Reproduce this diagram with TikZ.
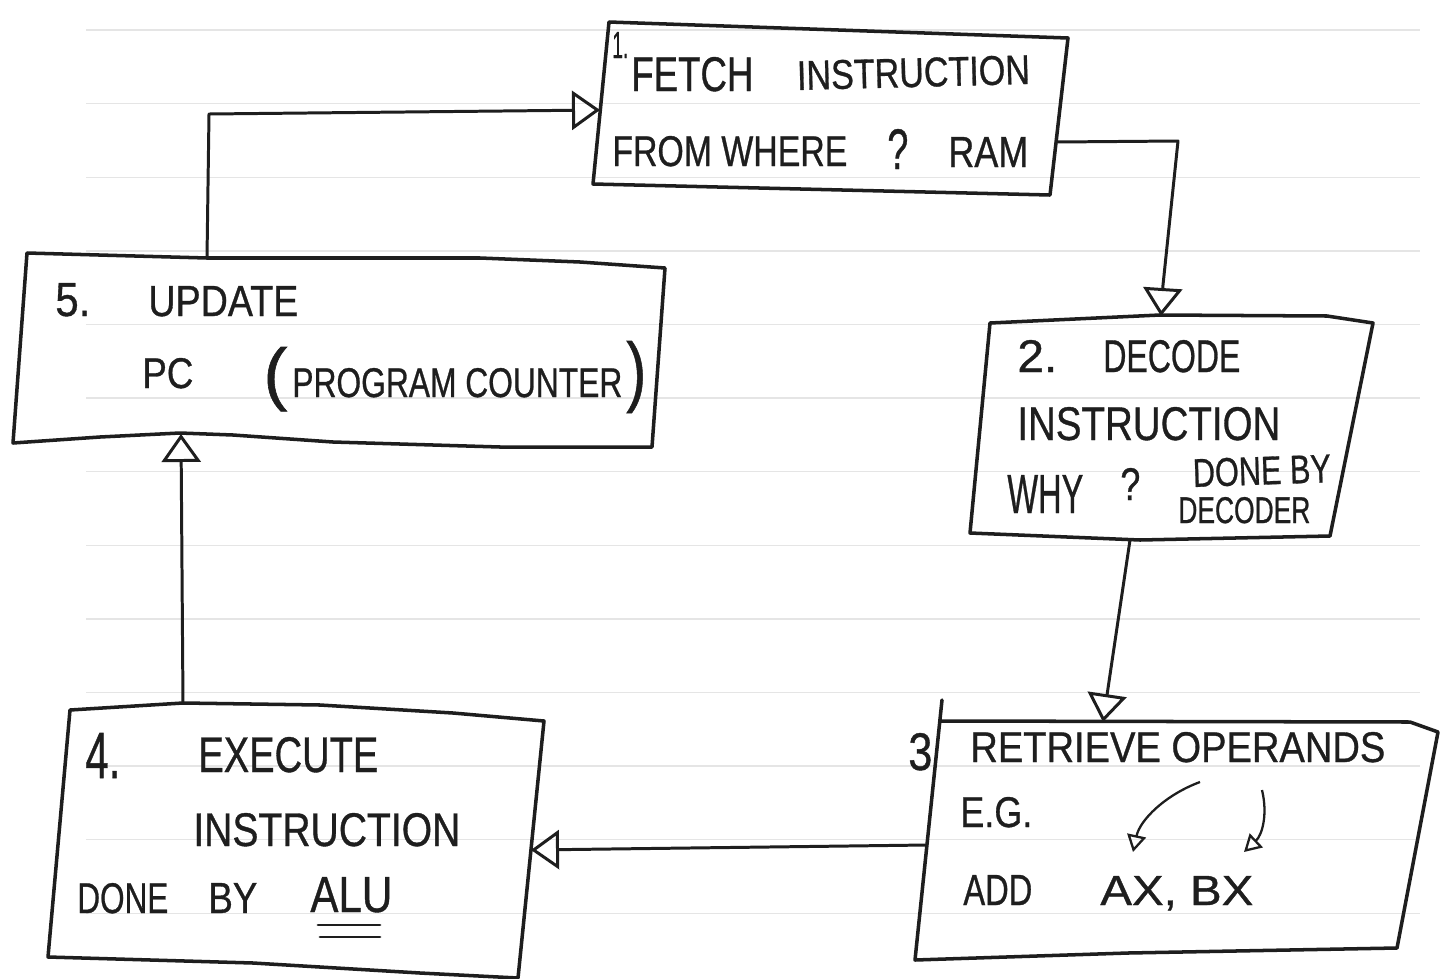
\documentclass[tikz,border=0pt]{standalone}
\usepackage{fontspec}
\usepackage{graphicx}
\usetikzlibrary{arrows.meta}
\newfontfamily\hand[FakeBold=0.8]{Liberation Sans}
\newlength\px
\setlength\px{0.2mm}
\newcommand\hwt[3]{\resizebox{#1\px}{#2\px}{\hand\fontsize{20pt}{24pt}\selectfont #3}}
\definecolor{ink}{HTML}{1E1E1E}
\begin{document}
\begin{tikzpicture}[x=0.2mm,y=-0.2mm,
  hw/.style={inner sep=0pt, anchor=base west, text=ink},
  box/.style={draw=ink, line width=2pt, line join=round, line cap=round},
  link/.style={draw=ink, line width=1.7pt, line join=round, -{Triangle[open,length=5.6mm,width=7.8mm,line width=1.7pt]}},
  sublink/.style={draw=ink, line width=1.3pt, -{Triangle[open,length=3.4mm,width=3.8mm,line width=1.3pt]}},
  rule/.style={draw=black!10, line width=0.8pt}]
\useasboundingbox (0,0) rectangle (1452,978);
\fill[white] (0,0) rectangle (1452,978);
% ruled notebook lines
\foreach \k in {0,...,12} {
  \draw[rule] (86,{30+73.6*\k}) -- (1420,{30+73.6*\k});
}
% ---------- boxes ----------
\draw[box] (609,22) -- (1068,38) -- (1050,195) -- (593,184) -- cycle;
\draw[box] (990,323) -- (1160,315) -- (1327,316) -- (1373,323) -- (1330,536) -- (1140,540) -- (970,533) -- cycle;
\draw[box] (942,700) -- (915,960) -- (1128,953) -- (1397,948) -- (1438,732) -- (1410,722) -- (940,721);
\draw[box] (70,710) -- (183,703) -- (320,705) -- (453,713) -- (544,721) -- (518,978) -- (420,973) -- (253,963) -- (48,957) -- cycle;
\draw[box] (27,253) -- (207,258) -- (480,258) -- (580,262) -- (665,268) -- (652,447) -- (500,447) -- (333,442) -- (233,435) -- (180,433) -- (100,437) -- (13,443) -- cycle;
% ---------- texts ----------
% 1
\node[hw] (n1) at (612,58) {\hwt{16}{26}{1.}};
\node[hw] (f1) at (631,91) {\hwt{122}{34}{FETCH}};
\node[hw, rotate=1.5] (f2) at (797,90) {\hwt{233}{29}{INSTRUCTION}};
\node[hw] (f3) at (612,166) {\hwt{235}{30}{FROM WHERE}};
\node[hw] (f4) at (887,169) {\hwt{21}{40}{?}};
\node[hw] (f5) at (948,167) {\hwt{80}{30}{RAM}};
% 2
\node[hw] (d1) at (1017,372) {\hwt{40}{32}{2.}};
\node[hw] (d2) at (1103,372) {\hwt{137}{32}{DECODE}};
\node[hw] (d3) at (1017,440) {\hwt{263}{33}{INSTRUCTION}};
\node[hw] (d4) at (1007,513) {\hwt{76}{38}{WHY}};
\node[hw] (d5) at (1120,500) {\hwt{20}{32}{?}};
\node[hw, rotate=2] (d6) at (1193,487) {\hwt{138}{28}{DONE BY}};
\node[hw] (d7) at (1178,523) {\hwt{132}{26}{DECODER}};
% 3
\node[hw] (r0) at (908,770) {\hwt{24}{37}{3}};
\node[hw] (r1) at (970,762) {\hwt{415}{30}{RETRIEVE OPERANDS}};
\node[hw] (r2) at (960,827) {\hwt{72}{30}{E.G.}};
\node[hw] (r3) at (963,905) {\hwt{69}{30}{ADD}};
\node[hw] (r4) at (1100,905) {\hwt{153}{29}{AX, BX}};
\coordinate (op1) at (1200,782);
\coordinate (ax) at (1133,852);
\coordinate (op2) at (1262,790);
\coordinate (bx) at (1244,852);
\draw[sublink] (op1) .. controls (1165,795) and (1140,820) .. (ax);
\draw[sublink] (op2) .. controls (1268,815) and (1262,835) .. (bx);
% 4
\node[hw] (e0) at (85,778) {\hwt{35}{45}{4.}};
\node[hw] (e1) at (198,772) {\hwt{180}{35}{EXECUTE}};
\node[hw] (e2) at (193,846) {\hwt{267}{33}{INSTRUCTION}};
\node[hw] (e3) at (77,913) {\hwt{91}{30}{DONE}};
\node[hw] (e4) at (208,913) {\hwt{49}{30}{BY}};
\node[hw] (e5) at (310,912) {\hwt{82}{35}{ALU}};
\draw[box, line width=1.6pt] (318,925) -- (380,925);
\draw[box, line width=1.6pt] (320,937) -- (380,937);
% 5
\node[hw] (u0) at (55,316) {\hwt{35}{33}{5.}};
\node[hw] (u1) at (148,316) {\hwt{150}{30}{UPDATE}};
\node[hw] (u2) at (142,388) {\hwt{51}{30}{PC}};
\node[hw] (u3) at (263,397) {\hwt{24}{50}{(}};
\node[hw] (u4) at (292,397) {\hwt{330}{29}{PROGRAM COUNTER}};
\node[hw] (u5) at (626,397) {\hwt{20}{56}{)}};
% ---------- connection points ----------
\coordinate (u-top) at (207,258);
\coordinate (u-bot) at (181,434);
\coordinate (f-in) at (600,110);
\coordinate (f-out) at (1056,142);
\coordinate (d-in) at (1161,316);
\coordinate (d-out) at (1130,540);
\coordinate (r-in) at (1103,722);
\coordinate (r-out) at (927,845);
\coordinate (e-in) at (531,850);
\coordinate (e-out) at (183,704);
% ---------- connectors ----------
\draw[link] (u-top) -- (209,114) -- (f-in);
\draw[link] (f-out) -- (1178,141) -- (1163,285) -- (d-in);
\draw[link] (d-out) -- (r-in);
\draw[link] (r-out) -- (e-in);
\draw[link] (e-out) -- (u-bot);
\end{tikzpicture}
\end{document}
